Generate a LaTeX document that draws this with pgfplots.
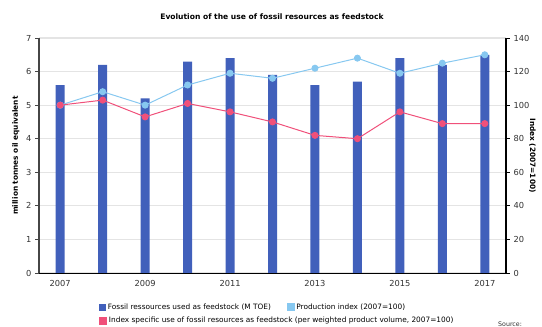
\documentclass[border=0pt]{standalone}
\usepackage{pgfplots}
\pgfplotsset{compat=1.18}
\usepackage{fontspec}
\setmainfont{DejaVu Sans}
\definecolor{barblue}{RGB}{65,96,187}
\definecolor{lightblue}{RGB}{135,200,240}
\definecolor{pinkc}{RGB}{240,80,122}
\definecolor{gridgray}{RGB}{228,228,228}
\definecolor{axgray}{RGB}{70,70,70}
\definecolor{txtgray}{RGB}{50,50,50}
\begin{document}
\begin{tikzpicture}
\useasboundingbox (0,0) rectangle (542bp,327bp);
\node[font=\bfseries\fontsize{7.6}{9}\selectfont] at (272bp,310bp) {Evolution of the use of fossil resources as feedstock};
\begin{axis}[
  at={(39bp,54bp)}, anchor=south west,
  scale only axis, width=467bp, height=235bp,
  xmin=2006.5, xmax=2017.5, ymin=0, ymax=7,
  axis y line*=left, axis x line*=bottom,
  axis line style={-},
  y axis line style={axgray, line width=1.2bp},
  x axis line style={black, line width=1bp},
  xtick={2007,2009,2011,2013,2015,2017},
  major x tick style={draw=none},
  extra x ticks={2006.5,2008.5,2010.5,2012.5,2014.5,2016.5},
  extra x tick labels={},
  extra x tick style={major tick length=4bp, tick style={black, line width=0.8bp}},
  ytick={0,1,...,7},
  major tick length=4bp,
  tick align=outside,
  ytick style={axgray, line width=0.8bp},
  ymajorgrids,
  grid style={gridgray, line width=1.2bp},
  tick label style={font=\fontsize{8.3}{10}\selectfont, text=txtgray},
  /pgf/number format/assume math mode=true,
  /pgf/number format/1000 sep={},
  ylabel={million tonnes oil equivalent},
  ylabel style={font=\bfseries\fontsize{7.4}{9}\selectfont, yshift=0bp},
  legend style={at={(0.128,-0.145)}, anchor=west, draw=none, fill=none,
    font=\fontsize{7.4}{9}\selectfont, inner sep=0pt},
  legend columns=2,
  legend cell align=left,
  /tikz/every even column/.append style={column sep=14bp},
]
\addplot[ybar, bar width=9bp, fill=barblue, draw=none,
  legend image code/.code={\fill[barblue] (0bp,-3.5bp) rectangle (7bp,3.5bp);}]
  coordinates {(2007,5.6) (2008,6.2) (2009,5.2) (2010,6.3) (2011,6.4) (2012,5.9)
  (2013,5.6) (2014,5.7) (2015,6.4) (2016,6.2) (2017,6.5)};
\addlegendentry{Fossil ressources used as feedstock (M TOE)}
\addlegendimage{legend image code/.code={\fill[lightblue] (0bp,-3.5bp) rectangle (7bp,3.5bp);}}
\addlegendentry{Production index (2007=100)}
\end{axis}
\begin{axis}[
  at={(39bp,54bp)}, anchor=south west,
  scale only axis, width=467bp, height=235bp,
  xmin=2006.5, xmax=2017.5, ymin=0, ymax=140,
  axis y line*=right, axis x line=none,
  axis line style={-},
  y axis line style={black, line width=1.2bp},
  ytick={0,20,...,140},
  major tick length=4bp,
  tick align=outside,
  ytick style={black, line width=0.8bp},
  tick label style={font=\fontsize{8.3}{10}\selectfont, text=txtgray},
  /pgf/number format/assume math mode=true,
  ylabel={Index (2007=100)},
  ylabel style={font=\bfseries\fontsize{7.4}{9}\selectfont, rotate=180, yshift=-7bp},
  legend style={at={(0.128,-0.204)}, anchor=west, draw=none, fill=none,
    font=\fontsize{7.4}{9}\selectfont, inner sep=0pt},
  legend cell align=left,
]
\addplot[lightblue, line width=1bp, mark=*, mark size=3bp, mark options={fill=lightblue, draw=lightblue}, forget plot]
  coordinates {(2007,100) (2008,108) (2009,100) (2010,112) (2011,119) (2012,116)
  (2013,122) (2014,128) (2015,119) (2016,125) (2017,130)};
\addplot[pinkc, line width=1bp, mark=*, mark size=3bp, mark options={fill=pinkc, draw=pinkc},
  legend image code/.code={\fill[pinkc] (0bp,-3.5bp) rectangle (7bp,3.5bp);}]
  coordinates {(2007,100) (2008,103) (2009,93) (2010,101) (2011,96) (2012,90)
  (2013,82) (2014,80) (2015,96) (2016,89) (2017,89)};
\addlegendentry{Index specific use of fossil resources as feedstock (per weighted product volume, 2007=100)}
\end{axis}
\node[anchor=south west, font=\fontsize{6.3}{7}\selectfont, text=txtgray, inner sep=0pt] at (498bp,0.5bp) {Source:};
\end{tikzpicture}
\end{document}
